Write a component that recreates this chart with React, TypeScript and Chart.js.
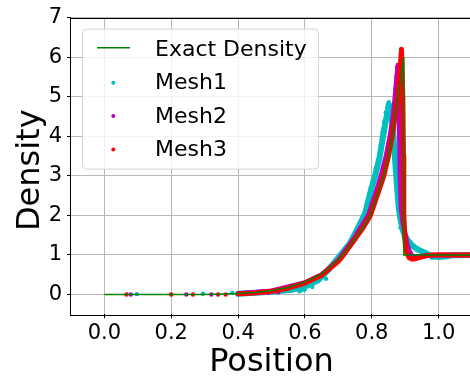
import React, { useEffect, useRef } from "react";
import { Chart, registerables } from "chart.js";

Chart.register(...registerables);

// ---------- data ----------
const exactX = [0, 0.3, 0.4, 0.45, 0.5, 0.55, 0.6, 0.65, 0.7, 0.713, 0.75, 0.775, 0.796, 0.816, 0.836, 0.85, 0.861, 0.87, 0.878, 0.888, 0.896, 0.896, 1.1];
const exactY = [0, 0.002, 0.025, 0.05, 0.1, 0.18, 0.32, 0.52, 0.88, 1.0, 1.4, 1.7, 2.0, 2.5, 3.0, 3.5, 4.0, 4.5, 5.0, 5.5, 6.0, 1.0, 1.0];

// Mesh1 (dense band)
const mesh1X = [0.4, 0.5, 0.56, 0.6, 0.64, 0.67, 0.697, 0.735, 0.76, 0.78, 0.795, 0.81, 0.823, 0.833, 0.84, 0.847, 0.853, 0.859, 0.865, 0.87, 0.875, 0.88, 0.886, 0.894, 0.905, 0.92, 0.935, 0.95, 0.965, 0.98, 1.0, 1.02, 1.04, 1.1];
const mesh1Y = [0.02, 0.07, 0.12, 0.2, 0.36, 0.62, 0.9, 1.3, 1.7, 2.05, 2.55, 3.0, 3.45, 3.95, 4.3, 4.6, 4.78, 4.55, 4.0, 3.4, 2.8, 2.25, 1.9, 1.6, 1.4, 1.25, 1.15, 1.09, 1.03, 0.97, 0.95, 0.96, 0.99, 1.0];
// Mesh1 (scattered particles)
const mesh1DotsX = [0.097, 0.295, 0.383, 0.52, 0.584, 0.589, 0.599, 0.622, 0.663, 0.688, 0.703, 0.72, 0.738, 0.752, 0.757, 0.765, 0.777, 0.787, 0.792, 0.797, 0.802, 0.807, 0.812, 0.817, 0.822, 0.827, 0.83, 0.832, 0.835, 0.837, 0.842, 0.846, 0.848, 0.851, 0.855, 0.86, 0.866, 0.866, 0.871, 0.876, 0.881, 0.886, 0.896, 0.911, 0.941, 0.98];
const mesh1DotsY = [0.01, 0.02, 0.04, 0.05, 0.08, 0.11, 0.12, 0.19, 0.4, 0.78, 0.94, 1.1, 1.32, 1.48, 1.61, 1.75, 1.98, 2.36, 2.52, 2.7, 2.86, 3.0, 3.19, 3.3, 3.44, 3.78, 3.95, 4.1, 4.2, 4.36, 4.61, 4.73, 4.8, 4.86, 4.7, 4.6, 4.44, 3.86, 3.28, 2.69, 2.11, 1.69, 1.44, 1.23, 1.11, 0.93];

// Mesh2 (dense band)
const mesh2X = [0.4, 0.5, 0.6, 0.65, 0.7, 0.75, 0.79, 0.81, 0.828, 0.843, 0.855, 0.864, 0.87, 0.875, 0.879, 0.881, 0.883, 0.885, 0.888, 0.892, 0.898, 0.905, 0.912, 0.92, 0.93, 0.945, 0.96, 1.0, 1.1];
const mesh2Y = [0.02, 0.09, 0.3, 0.5, 0.86, 1.45, 2.0, 2.5, 3.0, 3.5, 4.0, 4.5, 5.0, 5.5, 5.8, 5.0, 4.0, 3.0, 2.2, 1.9, 1.6, 1.3, 1.1, 0.98, 0.95, 0.96, 0.98, 1.0, 1.0];
const mesh2DotsX = [0.079, 0.245, 0.32, 0.49, 0.52, 0.871, 0.872, 0.874, 0.876, 0.879];
const mesh2DotsY = [0, 0, 0, 0.04, 0.06, 5.2, 5.0, 5.5, 5.75, 5.3];

// Mesh3 (dense band)
const mesh3X = [0.4, 0.45, 0.5, 0.55, 0.6, 0.65, 0.7, 0.713, 0.75, 0.775, 0.796, 0.816, 0.836, 0.85, 0.861, 0.87, 0.878, 0.884, 0.889, 0.893, 0.895, 0.896, 0.9, 0.905, 0.912, 0.92, 0.93, 0.945, 0.96, 0.98, 1.1];
const mesh3Y = [0.02, 0.04, 0.08, 0.16, 0.29, 0.49, 0.84, 0.97, 1.4, 1.7, 2.0, 2.5, 3.0, 3.5, 4.0, 4.5, 5.0, 5.6, 6.2, 5.0, 3.5, 2.0, 1.3, 1.05, 0.93, 0.9, 0.9, 0.94, 0.98, 1.0, 1.0];
const mesh3DotsX = [0.066, 0.2, 0.265, 0.34, 0.363];
const mesh3DotsY = [0, 0, 0, 0, 0];

const xTicks = [0, 0.2, 0.4, 0.6, 0.8, 1.0];
const yTicks = [0, 1, 2, 3, 4, 5, 6, 7];

const legendNames = ["Exact Density", "Mesh1", "Mesh2", "Mesh3"];
const xTitle = "Position";
const yTitle = "Density";

const GREEN = "#008000";
const CYAN = "#00BFBF";
const MAGENTA = "#BF00BF";
const RED = "#FF0000";
const FONT = "'DejaVu Sans', sans-serif";

function pts(xs: number[], ys: number[]) {
  return xs.map((x, i) => ({ x, y: ys[i] }));
}

function band(label: string, xs: number[], ys: number[], color: string, order: number, width: number) {
  return {
    label,
    data: pts(xs, ys),
    showLine: true,
    borderColor: color,
    backgroundColor: color,
    borderWidth: width,
    borderCapStyle: "round",
    borderJoinStyle: "round",
    pointRadius: 0,
    tension: 0,
    order,
  };
}

function dots(label: string, xs: number[], ys: number[], color: string, order: number) {
  return {
    label,
    data: pts(xs, ys),
    showLine: false,
    backgroundColor: color,
    borderColor: color,
    borderWidth: 0,
    pointRadius: 2.2,
    order,
  };
}

const spinesPlugin = {
  id: "spines",
  afterDatasetsDraw(chart: any) {
    const { ctx, chartArea: a } = chart;
    ctx.save();
    ctx.strokeStyle = "#000";
    ctx.lineWidth = 1;
    ctx.strokeRect(Math.round(a.left) - 0.5, Math.round(a.top) + 0.5, Math.round(a.right - a.left) + 1, Math.round(a.bottom - a.top));
    ctx.restore();
  },
};

const textPlugin = {
  id: "mplText",
  afterDraw(chart: any) {
    const { ctx, chartArea: a } = chart;
    ctx.save();
    // y axis title
    ctx.save();
    ctx.translate(38.5, (a.top + a.bottom) / 2 + 4.3);
    ctx.rotate(-Math.PI / 2);
    ctx.font = `32px ${FONT}`;
    ctx.fillStyle = "#000";
    ctx.textAlign = "center";
    ctx.textBaseline = "alphabetic";
    ctx.fillText(yTitle, 0, 0);
    ctx.restore();

    // legend
    const bx = a.left + 11;
    const by = a.top + 11;
    const bw = 236;
    const bh = 140;
    ctx.beginPath();
    (ctx as any).roundRect(bx + 0.5, by + 0.5, bw, bh, 4);
    ctx.fillStyle = "rgba(255,255,255,0.8)";
    ctx.fill();
    ctx.strokeStyle = "#d4d4d4";
    ctx.lineWidth = 1;
    ctx.stroke();

    const colors = [GREEN, CYAN, MAGENTA, RED];
    const rowBase = [by + 27.7, by + 60.7, by + 94, by + 127.3];
    ctx.font = `22px ${FONT}`;
    ctx.textAlign = "left";
    ctx.textBaseline = "alphabetic";
    legendNames.forEach((name, i) => {
      const base = rowBase[i];
      const cy = base - 8.5;
      if (i === 0) {
        ctx.strokeStyle = colors[i];
        ctx.lineWidth = 1.5;
        ctx.beginPath();
        ctx.moveTo(bx + 15, cy);
        ctx.lineTo(bx + 48, cy);
        ctx.stroke();
      } else {
        ctx.fillStyle = colors[i];
        ctx.beginPath();
        ctx.arc(bx + 31.3, cy + 2, 2, 0, Math.PI * 2);
        ctx.fill();
      }
      ctx.fillStyle = "#000";
      ctx.fillText(name, bx + 73, base);
    });
    ctx.restore();
  },
};

export default function App() {
  const canvasRef = useRef<HTMLCanvasElement | null>(null);

  useEffect(() => {
    if (!canvasRef.current) return;
    const datasets: any[] = [
      {
        label: "Exact Density",
        data: pts(exactX, exactY),
        showLine: true,
        borderColor: GREEN,
        backgroundColor: GREEN,
        borderWidth: 1.5,
        pointRadius: 0,
        tension: 0,
        order: 0,
      },
      band("Mesh3", mesh3X, mesh3Y, RED, 1, 5),
      dots("Mesh3", mesh3DotsX, mesh3DotsY, RED, 1),
      band("Mesh2", mesh2X, mesh2Y, MAGENTA, 2, 5),
      dots("Mesh2", mesh2DotsX, mesh2DotsY, MAGENTA, 2),
      band("Mesh1", mesh1X, mesh1Y, CYAN, 3, 6),
      dots("Mesh1", mesh1DotsX, mesh1DotsY, CYAN, 3),
    ];

    const chart = new Chart(canvasRef.current, {
      type: "scatter",
      data: { datasets },
      options: {
        animation: false,
        responsive: true,
        maintainAspectRatio: false,
        events: [],
        layout: { padding: { left: 0, top: 14, right: 2.4, bottom: 0 } },
        plugins: { legend: { display: false }, tooltip: { enabled: false } },
        scales: {
          x: {
            type: "linear",
            min: -0.1,
            max: 1.1,
            afterBuildTicks: (s: any) => {
              s.ticks = xTicks.map((v) => ({ value: v }));
            },
            afterFit: (s: any) => {
              s.height = 67.7;
            },
            ticks: {
              font: { family: FONT, size: 21 },
              color: "#000",
              padding: 3,
              maxRotation: 0,
              autoSkip: false,
              callback: (v: any) => Number(v).toFixed(1),
            },
            grid: { color: "#b8b8b8", tickColor: "#000", tickLength: 4, lineWidth: 1 },
            border: { display: false },
            title: {
              display: true,
              text: xTitle,
              color: "#000",
              font: { family: FONT, size: 32 },
              padding: { top: 0, bottom: 0 },
            },
          },
          y: {
            type: "linear",
            min: -0.5,
            max: 7,
            afterBuildTicks: (s: any) => {
              s.ticks = yTicks.map((v) => ({ value: v }));
            },
            afterFit: (s: any) => {
              s.width = 71;
            },
            ticks: {
              font: { family: FONT, size: 21 },
              color: "#000",
              padding: 5,
              autoSkip: false,
              callback: (v: any) => String(Number(v)),
            },
            grid: { color: "#b8b8b8", tickColor: "#000", tickLength: 4, lineWidth: 1 },
            border: { display: false },
            title: { display: false },
          },
        },
      } as any,
      plugins: [spinesPlugin, textPlugin],
    });
    return () => chart.destroy();
  }, []);

  return (
    <div style={{ position: "fixed", left: 0, top: 0, width: 470, height: 382, overflow: "hidden", background: "#fff" }}>
      <div style={{ position: "relative", width: 476, height: 382 }}>
        <canvas ref={canvasRef} />
      </div>
    </div>
  );
}
